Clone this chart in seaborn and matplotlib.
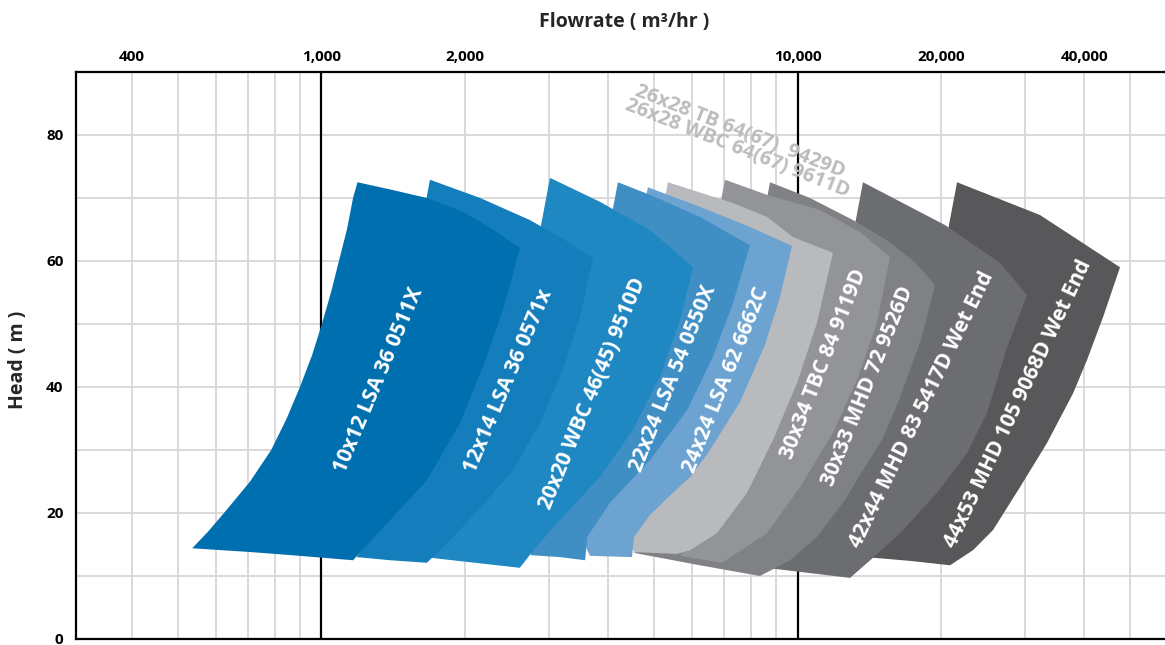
import matplotlib
matplotlib.use("Agg")
import matplotlib.pyplot as plt
import seaborn as sns
from matplotlib.ticker import FixedLocator, NullLocator

# Pump envelopes, points are (flowrate m3/hr, head m)
pump_names = [
    "10x12 LSA 36 0511X",
    "12x14 LSA 36 0571x",
    "20x20 WBC 46(45) 9510D",
    "22x24 LSA 54 0550X",
    "24x24 LSA 62 6662C",
    "",
    "30x34 TBC 84 9119D",
    "30x33 MHD 72 9526D",
    "42x44 MHD 83 5417D Wet End",
    "44x53 MHD 105 9068D Wet End",
]
pump_colors = ["#006FAF", "#137EBB", "#1F88C2", "#3F8FC5", "#6CA3D1",
               "#B9BABD", "#939498", "#808185", "#6C6D71", "#58585B"]

s1_top = [(1190, 72.5), (1405, 71.3), (1665, 70.0), (1985, 67.8), (2280, 65.1), (2610, 62.1)]
s1_right = [(2430, 53.3), (2225, 44.8), (1955, 34.3), (1665, 25.2), (1375, 18.4), (1165, 12.5)]
s1_bottom = [(900, 13.2), (710, 13.8), (535, 14.4)]
s1_left = [(577, 17.0), (624, 20.0), (708, 25.0), (784, 30.0), (845, 35.0), (901, 40.0),
           (955, 45.0), (1002, 50.0), (1047, 55.0), (1088, 60.0), (1131, 65.0), (1165, 70.0)]

s2_top = [(1690, 72.9), (2155, 70.0), (2740, 66.5), (3250, 63.3), (3720, 60.5)]
s2_right = [(3490, 51.1), (3215, 42.7), (2880, 34.3), (2525, 26.8), (2155, 20.8), (1880, 16.0), (1665, 12.1)]
s2_bottom = [(1395, 12.5), (1185, 13.0)]

s3_top = [(3020, 73.2), (3845, 69.4), (4900, 64.9), (6035, 59.0)]
s3_right = [(5665, 50.6), (5140, 41.6), (4510, 33.2), (3845, 25.7), (3170, 18.9), (2810, 14.4), (2610, 11.3)]
s3_bottom = [(2100, 12.1), (1690, 12.9)]

s4_top = [(4195, 72.5), (4900, 70.5), (6240, 67.0), (7945, 62.5)]
s4_right = [(7320, 53.3), (6645, 44.8), (5860, 36.3), (4900, 28.4), (4035, 21.6), (3615, 16.2), (3580, 12.5)]
s4_bottom = [(3170, 13.0), (2755, 13.3)]

s5_top = [(4850, 71.7), (6240, 68.6), (7945, 65.4), (9735, 62.4)]
s5_right = [(9190, 54.3), (8545, 46.7), (7570, 37.6), (6485, 29.5), (5945, 25.7),
            (5475, 23.2), (4900, 19.7), (4535, 16.2), (4490, 13.0)]
s5_bottom = [(3665, 13.2)]

s6_top = [(5345, 72.5), (7320, 69.2), (8630, 67.0), (9785, 63.8), (11870, 61.3)]
s6_right = [(10990, 50.2), (9975, 40.6), (8885, 31.6), (7830, 23.2), (6775, 16.8), (5945, 14.1), (5580, 13.5)]
s6_bottom = [(4535, 13.8)]

s7_top = [(7040, 72.9), (8630, 70.5), (11150, 68.1), (13530, 64.6), (15640, 60.6)]
s7_right = [(14690, 50.2), (13335, 41.1), (11870, 32.7), (10120, 24.1), (8630, 16.8), (6940, 12.1)]
s7_bottom = [(5665, 13.2)]

s8_top = [(8755, 72.5), (10625, 70.0), (13080, 66.5), (15415, 63.3), (17660, 59.8), (19450, 56.2)]
s8_right = [(18175, 47.5), (16340, 37.9), (15050, 31.6), (13725, 26.8), (12585, 22.1),
            (10990, 16.2), (9645, 12.5), (8340, 10.0)]
s8_bottom = [(6240, 11.7), (4510, 13.7)]

s9_top = [(13725, 72.5), (20415, 65.7), (26640, 59.7), (30350, 54.6)]
s9_right = [(27555, 46.3), (25015, 35.9), (22705, 29.5), (19640, 23.2), (16420, 16.8), (14410, 12.9), (12895, 9.7)]
s9_bottom = [(10520, 10.5), (8585, 11.3)]

s10_top = [(21635, 72.5), (32315, 67.3), (47590, 59.0)]
s10_right = [(43845, 51.1), (40575, 44.3), (37925, 39.0), (33425, 31.1), (29335, 24.1),
             (25750, 17.3), (23375, 14.1), (20915, 11.7)]
s10_bottom = [(17235, 12.4), (14410, 12.9)]

tops = [s1_top, s2_top, s3_top, s4_top, s5_top, s6_top, s7_top, s8_top, s9_top, s10_top]
rights = [s1_right, s2_right, s3_right, s4_right, s5_right, s6_right, s7_right, s8_right, s9_right, s10_right]
bottoms = [s1_bottom, s2_bottom, s3_bottom, s4_bottom, s5_bottom, s6_bottom, s7_bottom, s8_bottom, s9_bottom, s10_bottom]

# label anchors (flow, head) and angle
label_flow = [1321, 2465, 3719, 5475, 7075, 0, 11370, 14065, 18265, 29055]
label_head = [41.0, 41.0, 38.9, 41.3, 41.1, 0, 43.6, 40.2, 36.4, 37.3]
label_angle = [67, 67, 67.5, 68, 68, 0, 68.5, 68, 64, 64.5]

# the two 26x28 pumps share the light grey envelope, labelled above it
top_labels = ["26x28 TB 64(67)  9429D", "26x28 WBC 64(67) 9611D"]
top_label_flow = [7572, 7463]
top_label_head = [80.5, 77.8]

flow_ticks = [400, 1000, 2000, 10000, 20000, 40000]
flow_tick_labels = ["400", "1,000", "2,000", "10,000", "20,000", "40,000"]
head_ticks = [0, 20, 40, 60, 80]
grid_flows = [400, 500, 600, 700, 800, 900, 2000, 3000, 4000, 5000, 6000, 7000, 8000, 9000,
              20000, 30000, 40000, 50000]
grid_heads = [10, 20, 30, 40, 50, 60, 70, 80]
major_flows = [1000, 10000]

sns.set_theme(style="white")
plt.rcParams['font.family'] = ['Open Sans', 'DejaVu Sans']

fig = plt.figure(figsize=(11.65, 6.45), dpi=100)
ax = fig.add_axes([76 / 1165, 6 / 645, 1089 / 1165, 567 / 645])
ax.set_xscale('log')
ax.set_xlim(305, 59160)
ax.set_ylim(0, 90)

for q in grid_flows:
    ax.axvline(q, color='#D9D9D9', lw=1.4, zorder=0.5)
for h in grid_heads:
    ax.axhline(h, color='#D9D9D9', lw=1.4, zorder=0.5)
for q in major_flows:
    ax.axvline(q, color='black', lw=1.6, zorder=1)

# draw right to left so the smaller pumps sit on top
n = len(tops)
for i in range(n - 1, -1, -1):
    if i == 0:
        left = s1_left
    else:
        prev_edge = [tops[i - 1][-1]] + rights[i - 1][:-1]
        left = [(q * 0.97, h) for q, h in reversed(prev_edge)]
        tl_q, tl_h = tops[i][0]
        left = left + [(tl_q * 0.955, tl_h - 8)]
    pts = tops[i] + rights[i] + bottoms[i] + left
    ax.fill([p[0] for p in pts], [p[1] for p in pts], color=pump_colors[i],
            lw=0, zorder=3 + (n - i))

for i, name in enumerate(pump_names):
    if not name:
        continue
    ax.text(label_flow[i], label_head[i], name, rotation=label_angle[i], rotation_mode='anchor',
            ha='center', va='center', color='white', fontsize=15, fontweight='bold', zorder=30)

for lab, q, h in zip(top_labels, top_label_flow, top_label_head):
    ax.text(q, h, lab, rotation=-21.5, rotation_mode='anchor', ha='center', va='center',
            color='#BBBCBF', fontsize=14.5, fontweight='bold', zorder=30)

# axes styling
ax.xaxis.set_ticks_position('top')
ax.xaxis.set_major_locator(FixedLocator(flow_ticks))
ax.xaxis.set_minor_locator(NullLocator())
ax.set_xticklabels(flow_tick_labels, fontsize=11, fontweight='bold')
ax.set_yticks(head_ticks)
ax.set_yticklabels([str(h) for h in head_ticks], fontsize=11, fontweight='bold')
ax.tick_params(axis='x', length=0, pad=6, colors='black')
ax.tick_params(axis='y', length=0, pad=9, colors='black')
ax.grid(False)
for side in ['left', 'top', 'bottom']:
    ax.spines[side].set_visible(True)
    ax.spines[side].set_color('black')
    ax.spines[side].set_linewidth(1.6)
ax.spines['right'].set_visible(False)

fig.text(624 / 1165, 1 - 22 / 645, "Flowrate ( m³/hr )", ha='center', va='center',
         fontsize=14, fontweight='bold')
fig.text(18 / 1165, 1 - 360 / 645, "Head ( m )", rotation=90, ha='center', va='center',
         fontsize=14, fontweight='bold')

fig.savefig("out.png", dpi=100)
